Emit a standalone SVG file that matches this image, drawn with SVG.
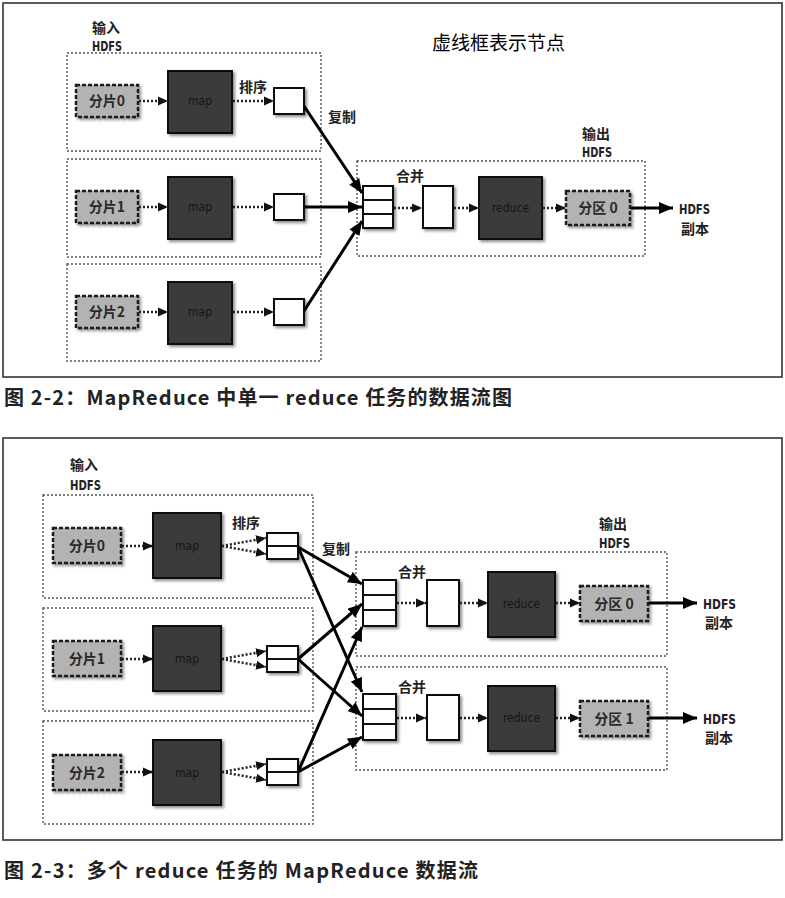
<svg xmlns="http://www.w3.org/2000/svg" width="785" height="898" viewBox="0 0 785 898">
<defs>
<style>
.bg{fill:#fff}
.frame{fill:none;stroke:#333;stroke-width:1.6}
.zone{fill:none;stroke:#555;stroke-width:1.4;stroke-dasharray:2 2}
.split{fill:#b3b3b3;stroke:#1a1a1a;stroke-width:2.5;stroke-dasharray:4 2;filter:url(#sh)}
.task{fill:#3a3a3a;stroke:#111;stroke-width:2;filter:url(#sh)}
.buf{fill:#fff;stroke:#111;stroke-width:2;filter:url(#sh)}
.sep{stroke:#111;stroke-width:2}
.cjk{font-family:"Noto Sans CJK SC",sans-serif;font-weight:bold;font-size:14px;fill:#222}
.hd{font-family:"DejaVu Sans Condensed","DejaVu Sans",sans-serif;font-weight:bold;font-size:14px;fill:#222}
.inner{font-family:"Noto Sans CJK SC",sans-serif;font-weight:bold;font-size:14px;fill:#2a2a2a;text-anchor:middle}
.tk{font-family:"DejaVu Sans Condensed","DejaVu Sans",sans-serif;font-size:12px;fill:#151515;text-anchor:middle}
.dot{fill:none;stroke:#222;stroke-width:2.5;stroke-dasharray:2 2;marker-end:url(#sa)}
.thick{fill:none;stroke:#000;stroke-width:3;marker-end:url(#ba)}
.cap{font-family:"Noto Sans CJK SC",sans-serif;font-weight:bold;font-size:20px;fill:#222}
.note{font-family:"Noto Sans CJK SC",sans-serif;font-size:19px;fill:#000}
</style>
<filter id="sh" x="-20%" y="-20%" width="150%" height="150%">
<feDropShadow dx="2" dy="2" stdDeviation="1.6" flood-color="#000" flood-opacity="0.45"/>
</filter>
<marker id="sa" markerUnits="userSpaceOnUse" markerWidth="10" markerHeight="10" viewBox="0 0 10 10" refX="10" refY="5" orient="auto">
<path d="M0,0.5 L10,5 L0,9.5 z" fill="#111"/>
</marker>
<marker id="ba" markerUnits="userSpaceOnUse" markerWidth="14" markerHeight="12" viewBox="0 0 14 12" refX="14" refY="6" orient="auto">
<path d="M0,0 L14,6 L0,12 z" fill="#000"/>
</marker>
</defs>
<rect class="bg" x="0" y="0" width="785" height="898"/>

<!-- ============ Figure 2-2 ============ -->
<g id="fig22-frame">
<rect class="frame" x="3" y="3" width="779" height="374"/>
<text class="note" x="432" y="50">虚线框表示节点</text>
</g>
<g id="fig22-input-label">
<text class="cjk" x="92" y="33">输入</text>
<text class="hd" x="92" y="51" textLength="30" lengthAdjust="spacingAndGlyphs">HDFS</text>
</g>

<g id="fig22-node0">
<rect class="zone" x="67" y="53" width="254" height="98"/>
<g id="fig22-split0"><rect class="split" x="76" y="85" width="62" height="32"/><text class="inner" x="107" y="106">分片0</text></g>
<g id="fig22-map0"><rect class="task" x="168" y="71" width="64" height="62"/><text class="tk" x="200" y="105">map</text></g>
<g id="fig22-out0"><rect class="buf" x="274" y="88" width="30" height="26"/></g>
<text class="cjk" x="239" y="92">排序</text>
</g>
<g id="fig22-node1">
<rect class="zone" x="67" y="159" width="254" height="98"/>
<g id="fig22-split1"><rect class="split" x="76" y="191" width="62" height="32"/><text class="inner" x="107" y="212">分片1</text></g>
<g id="fig22-map1"><rect class="task" x="168" y="177" width="64" height="62"/><text class="tk" x="200" y="211">map</text></g>
<g id="fig22-out1"><rect class="buf" x="274" y="194" width="30" height="26"/></g>
</g>
<g id="fig22-node2">
<rect class="zone" x="67" y="264" width="254" height="97"/>
<g id="fig22-split2"><rect class="split" x="76" y="296" width="62" height="32"/><text class="inner" x="107" y="317">分片2</text></g>
<g id="fig22-map2"><rect class="task" x="168" y="282" width="64" height="62"/><text class="tk" x="200" y="316">map</text></g>
<g id="fig22-out2"><rect class="buf" x="274" y="299" width="30" height="26"/></g>
</g>
<text class="cjk" x="328" y="122">复制</text>

<g id="fig22-reduce-node">
<rect class="zone" x="357" y="161" width="288" height="95"/>
<text class="cjk" x="582" y="139">输出</text>
<text class="hd" x="582" y="157" textLength="30" lengthAdjust="spacingAndGlyphs">HDFS</text>
<text class="cjk" x="396" y="181">合并</text>
<g id="fig22-merge-in"><rect class="buf" x="363" y="186" width="30" height="42"/><line class="sep" x1="363" y1="200" x2="393" y2="200"/><line class="sep" x1="363" y1="214" x2="393" y2="214"/></g>
<g id="fig22-merged"><rect class="buf" x="423" y="186" width="30" height="42"/></g>
<g id="fig22-reduce"><rect class="task" x="479" y="177" width="63" height="62"/><text class="tk" x="510.5" y="212">reduce</text></g>
<g id="fig22-part0"><rect class="split" x="566" y="191" width="64" height="34"/><text class="inner" x="598" y="213">分区 0</text></g>
</g>
<g id="fig22-hdfs-out">
<text class="hd" x="679" y="214" textLength="31" lengthAdjust="spacingAndGlyphs">HDFS</text>
<text class="cjk" x="681" y="234" font-size="13">副本</text>
</g>

<g id="fig22-connectors">
<line class="dot" x1="139" y1="101" x2="168" y2="101"/>
<line class="dot" x1="233" y1="101" x2="274" y2="101"/>
<line class="dot" x1="139" y1="207" x2="168" y2="207"/>
<line class="dot" x1="233" y1="207" x2="274" y2="207"/>
<line class="dot" x1="139" y1="312" x2="168" y2="312"/>
<line class="dot" x1="233" y1="312" x2="274" y2="312"/>
<line class="thick" x1="304" y1="106" x2="362" y2="193"/>
<line class="thick" x1="305" y1="207" x2="362" y2="207"/>
<line class="thick" x1="304" y1="311" x2="362" y2="221"/>
<line class="dot" x1="394" y1="208" x2="422" y2="208"/>
<line class="dot" x1="454" y1="208" x2="479" y2="208"/>
<line class="dot" x1="543" y1="208" x2="566" y2="208"/>
<line class="thick" x1="631" y1="208" x2="673" y2="208"/>
</g>

<text class="cap" x="4" y="405" textLength="508" lengthAdjust="spacing">图 2-2：MapReduce 中单一 reduce 任务的数据流图</text>

<!-- ============ Figure 2-3 ============ -->
<g id="fig23-frame">
<rect class="frame" x="3" y="438" width="779" height="402"/>
</g>
<g id="fig23-input-label">
<text class="cjk" x="70" y="470">输入</text>
<text class="hd" x="70" y="490" textLength="31" lengthAdjust="spacingAndGlyphs">HDFS</text>
</g>

<g id="fig23-node0">
<rect class="zone" x="43" y="495" width="270" height="103"/>
<g id="fig23-split0"><rect class="split" x="53" y="528" width="68" height="35"/><text class="inner" x="87" y="551">分片0</text></g>
<g id="fig23-map0"><rect class="task" x="153" y="513" width="68" height="65"/><text class="tk" x="187" y="550">map</text></g>
<g id="fig23-out0"><rect class="buf" x="267" y="533" width="31" height="26"/><line class="sep" x1="267" y1="546" x2="298" y2="546"/></g>
<text class="cjk" x="232" y="528">排序</text>
</g>
<g id="fig23-node1">
<rect class="zone" x="43" y="608" width="270" height="103"/>
<g id="fig23-split1"><rect class="split" x="53" y="641" width="68" height="35"/><text class="inner" x="87" y="664">分片1</text></g>
<g id="fig23-map1"><rect class="task" x="153" y="626" width="68" height="65"/><text class="tk" x="187" y="663">map</text></g>
<g id="fig23-out1"><rect class="buf" x="267" y="646" width="31" height="26"/><line class="sep" x1="267" y1="659" x2="298" y2="659"/></g>
</g>
<g id="fig23-node2">
<rect class="zone" x="43" y="721" width="270" height="103"/>
<g id="fig23-split2"><rect class="split" x="53" y="755" width="68" height="35"/><text class="inner" x="87" y="778">分片2</text></g>
<g id="fig23-map2"><rect class="task" x="153" y="740" width="68" height="65"/><text class="tk" x="187" y="777">map</text></g>
<g id="fig23-out2"><rect class="buf" x="267" y="759" width="31" height="26"/><line class="sep" x1="267" y1="772" x2="298" y2="772"/></g>
</g>
<text class="cjk" x="322" y="554">复制</text>

<g id="fig23-output-label">
<text class="cjk" x="599" y="529">输出</text>
<text class="hd" x="599" y="548" textLength="31" lengthAdjust="spacingAndGlyphs">HDFS</text>
</g>

<g id="fig23-reduce-node0">
<rect class="zone" x="356" y="552" width="311" height="104"/>
<text class="cjk" x="398" y="577">合并</text>
<g id="fig23-merge-in0"><rect class="buf" x="363" y="580" width="33" height="46"/><line class="sep" x1="363" y1="595" x2="396" y2="595"/><line class="sep" x1="363" y1="610" x2="396" y2="610"/></g>
<g id="fig23-merged0"><rect class="buf" x="427" y="580" width="32" height="46"/></g>
<g id="fig23-reduce0"><rect class="task" x="488" y="572" width="67" height="65"/><text class="tk" x="521.5" y="608">reduce</text></g>
<g id="fig23-part0"><rect class="split" x="580" y="586" width="68" height="35"/><text class="inner" x="614" y="609">分区 0</text></g>
</g>
<g id="fig23-reduce-node1">
<rect class="zone" x="356" y="667" width="311" height="103"/>
<text class="cjk" x="398" y="692">合并</text>
<g id="fig23-merge-in1"><rect class="buf" x="363" y="694" width="33" height="46"/><line class="sep" x1="363" y1="709" x2="396" y2="709"/><line class="sep" x1="363" y1="724" x2="396" y2="724"/></g>
<g id="fig23-merged1"><rect class="buf" x="427" y="695" width="32" height="45"/></g>
<g id="fig23-reduce1"><rect class="task" x="488" y="686" width="67" height="65"/><text class="tk" x="521.5" y="722">reduce</text></g>
<g id="fig23-part1"><rect class="split" x="580" y="701" width="68" height="35"/><text class="inner" x="614" y="724">分区 1</text></g>
</g>
<g id="fig23-hdfs-out0">
<text class="hd" x="703" y="609" textLength="33" lengthAdjust="spacingAndGlyphs">HDFS</text>
<text class="cjk" x="705" y="628" font-size="13">副本</text>
</g>
<g id="fig23-hdfs-out1">
<text class="hd" x="703" y="724" textLength="33" lengthAdjust="spacingAndGlyphs">HDFS</text>
<text class="cjk" x="705" y="743" font-size="13">副本</text>
</g>

<g id="fig23-connectors">
<line class="dot" x1="122" y1="546" x2="153" y2="546"/>
<line class="dot" x1="222" y1="546" x2="266" y2="538"/>
<line class="dot" x1="222" y1="546" x2="266" y2="554"/>
<line class="dot" x1="122" y1="659" x2="153" y2="659"/>
<line class="dot" x1="222" y1="659" x2="266" y2="651"/>
<line class="dot" x1="222" y1="659" x2="266" y2="667"/>
<line class="dot" x1="122" y1="772" x2="153" y2="772"/>
<line class="dot" x1="222" y1="772" x2="266" y2="764"/>
<line class="dot" x1="222" y1="772" x2="266" y2="780"/>
<line class="thick" x1="298" y1="547" x2="362" y2="584"/>
<line class="thick" x1="298" y1="547" x2="362" y2="692"/>
<line class="thick" x1="298" y1="659" x2="362" y2="604"/>
<line class="thick" x1="298" y1="659" x2="362" y2="716"/>
<line class="thick" x1="298" y1="772" x2="362" y2="627"/>
<line class="thick" x1="298" y1="772" x2="362" y2="737"/>
<line class="dot" x1="397" y1="603" x2="426" y2="603"/>
<line class="dot" x1="460" y1="603" x2="488" y2="603"/>
<line class="dot" x1="556" y1="603" x2="580" y2="603"/>
<line class="thick" x1="649" y1="603" x2="697" y2="603"/>
<line class="dot" x1="397" y1="718" x2="426" y2="718"/>
<line class="dot" x1="460" y1="718" x2="488" y2="718"/>
<line class="dot" x1="556" y1="718" x2="580" y2="718"/>
<line class="thick" x1="649" y1="718" x2="697" y2="718"/>
</g>

<text class="cap" x="4" y="878" textLength="474" lengthAdjust="spacing">图 2-3：多个 reduce 任务的 MapReduce 数据流</text>
</svg>
